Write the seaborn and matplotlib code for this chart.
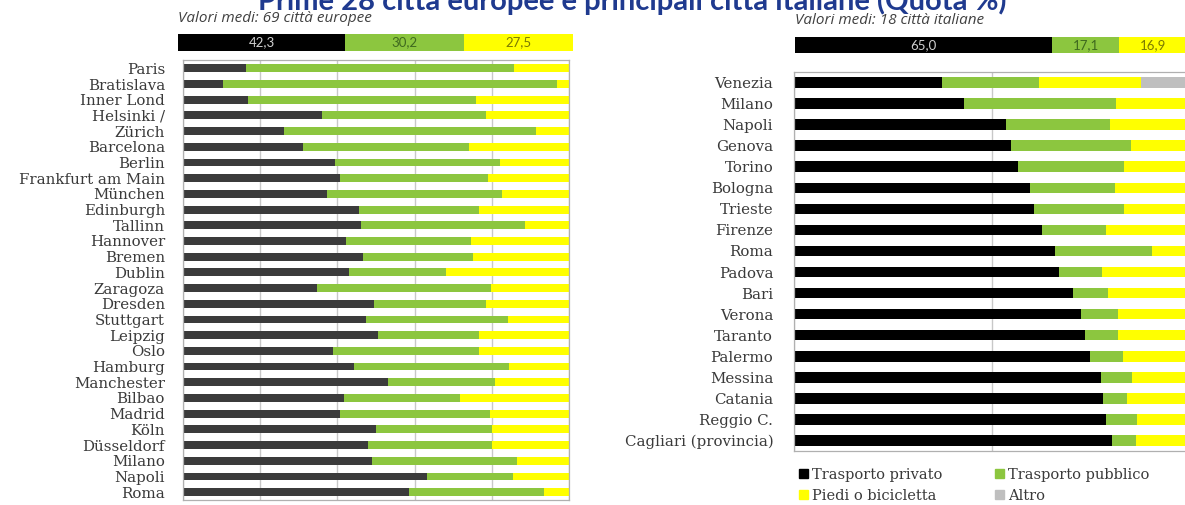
import numpy as np
import pandas as pd
import seaborn as sns
import matplotlib
matplotlib.use('Agg')
import matplotlib.pyplot as plt
from matplotlib.patches import Patch

# --- data (quota %) ---
eu_cities = ['Paris', 'Bratislava', 'Inner Lond', 'Helsinki /', 'Zürich', 'Barcelona',
             'Berlin', 'Frankfurt am Main', 'München', 'Edinburgh', 'Tallinn', 'Hannover',
             'Bremen', 'Dublin', 'Zaragoza', 'Dresden', 'Stuttgart', 'Leipzig', 'Oslo',
             'Hamburg', 'Manchester', 'Bilbao', 'Madrid', 'Köln', 'Düsseldorf', 'Milano',
             'Napoli', 'Roma']
eu_private = [16.4, 10.3, 16.8, 36.1, 26.2, 31.1, 39.5, 40.7, 37.2, 45.7, 46.2, 42.2,
              46.7, 43.0, 34.7, 49.5, 47.3, 50.4, 38.9, 44.4, 53.0, 41.7, 40.8, 49.9,
              47.8, 48.9, 63.1, 58.5]
eu_public = [69.4, 86.6, 59.2, 42.5, 65.3, 43.0, 42.7, 38.4, 45.5, 31.0, 42.5, 32.3,
             28.3, 25.1, 45.0, 29.1, 36.8, 26.3, 37.8, 40.1, 27.7, 30.0, 38.8, 30.2,
             32.3, 37.7, 22.4, 34.9]
eu_walk = [14.2, 3.1, 24.0, 21.4, 8.5, 25.9, 17.8, 20.9, 17.3, 23.3, 11.3, 25.5,
           25.0, 31.9, 20.3, 21.4, 15.9, 23.3, 23.3, 15.5, 19.3, 28.3, 20.4, 19.9,
           19.9, 13.4, 14.5, 6.6]

it_cities = ['Venezia', 'Milano', 'Napoli', 'Genova', 'Torino', 'Bologna', 'Trieste',
             'Firenze', 'Roma', 'Padova', 'Bari', 'Verona', 'Taranto', 'Palermo',
             'Messina', 'Catania', 'Reggio C.', 'Cagliari (provincia)']
it_private = [37.5, 43.0, 53.6, 55.0, 56.6, 59.7, 60.8, 62.8, 66.2, 67.1, 70.6, 72.7,
              73.6, 75.0, 77.6, 78.2, 79.1, 80.5]
it_public = [24.4, 38.5, 26.3, 30.2, 26.9, 21.5, 22.7, 16.1, 24.5, 10.8, 9.0, 9.2,
             8.3, 8.3, 8.0, 6.1, 7.8, 6.2]
it_walk = [25.9, 18.5, 20.1, 14.8, 16.5, 18.8, 16.5, 21.1, 9.3, 22.1, 20.4, 18.1,
           18.1, 16.7, 14.4, 15.7, 13.1, 13.3]
it_other = [12.2, 0, 0, 0, 0, 0, 0, 0, 0, 0, 0, 0, 0, 0, 0, 0, 0, 0]

eu_avg = [42.3, 30.2, 27.5]
it_avg = [65.0, 17.1, 16.9]
avg_labels_eu = ['42,3', '30,2', '27,5']
avg_labels_it = ['65,0', '17,1', '16,9']

modes = ['Trasporto privato', 'Trasporto pubblico', 'Piedi o bicicletta', 'Altro']
GREEN = '#8cc63f'
YELLOW = '#ffff00'
GREY = '#bfbfbf'

sns.set_style('white')
plt.rcParams['font.family'] = ['DejaVu Serif', 'Liberation Serif']

W, H = 1185, 505
fig = plt.figure(figsize=(W / 100, H / 100), dpi=100)


def px_axes(x0, y0, x1, y1):
    return fig.add_axes([x0 / W, 1 - y1 / H, (x1 - x0) / W, (y1 - y0) / H])


def stacked(ax, cities, layers, colors, ylim, pad):
    df = pd.DataFrame({'city': cities})
    cum = np.zeros(len(cities))
    cums = []
    for vals in layers:
        cum = cum + np.array(vals, dtype=float)
        cums.append(cum.copy())
    # draw from the longest stack down so each shorter one sits on top
    for c, col in reversed(list(zip(cums, colors))):
        df['v'] = c
        sns.barplot(data=df, x='v', y='city', orient='h', color=col, saturation=1,
                    width=0.5, errorbar=None, ax=ax, linewidth=0)
    ax.set_xlim(0, 100)
    ax.set_ylim(*ylim)
    ax.set_xlabel('')
    ax.set_ylabel('')
    for s in ax.spines.values():
        s.set_color('#b0b0b0')
        s.set_linewidth(0.9)
    ax.set_axisbelow(True)
    ax.tick_params(axis='y', which='major', length=0, pad=pad, labelcolor='#3a3a3a')
    ax.set_yticks(np.arange(-0.5, len(cities)), minor=True)
    ax.tick_params(axis='y', which='minor', length=3, color='#b0b0b0')
    ax.tick_params(axis='x', length=0, labelbottom=False)


# --- left: European cities ---
axl = px_axes(183, 60, 569, 500)
stacked(axl, eu_cities, [eu_private, eu_public, eu_walk], ['#3b3b3b', GREEN, YELLOW],
        (27.4, -0.53), 13)
axl.set_xticks([0, 20, 40, 60, 80, 100])
axl.grid(axis='x', color='#c8c8c8', linewidth=1)
axl.tick_params(axis='y', labelsize=10.8)

# --- right: Italian cities ---
axr = px_axes(794, 72, 1189, 451)
stacked(axr, it_cities, [it_private, it_public, it_walk, it_other],
        ['#000000', GREEN, YELLOW, GREY], (17.45, -0.47), 15)
axr.set_xticks([0, 50, 100])
axr.grid(axis='x', color='#c8c8c8', linewidth=1)
axr.tick_params(axis='y', labelsize=10.8)


# --- average summary bars ---
def summary(x0, y0, x1, y1, vals, labels):
    ax = px_axes(x0, y0, x1, y1)
    df = pd.DataFrame({'g': ['m'], 'v': [0.0]})
    cum = np.cumsum(vals)
    for c, col in reversed(list(zip(cum, ['#000000', GREEN, YELLOW]))):
        df['v'] = [c]
        sns.barplot(data=df, x='v', y='g', orient='h', color=col, saturation=1,
                    width=1.0, errorbar=None, ax=ax, linewidth=0)
    ax.set_xlim(0, 100)
    ax.set_ylim(0.5, -0.5)
    ax.axis('off')
    starts = np.concatenate([[0], cum[:-1]])
    for s, v, lab, tc in zip(starts, vals, labels, ['#d0d0d0', '#3f6a1f', '#7a7a00']):
        ax.text(s + v / 2, 0, lab, ha='center', va='center', fontsize=9.5,
                color=tc, family=['Lato', 'DejaVu Sans'])
    return ax


summary(178, 34, 573, 51, eu_avg, avg_labels_eu)
summary(795, 37, 1190, 53, it_avg, avg_labels_it)

fig.text(178 / W, 1 - 19 / H, 'Valori medi: 69 città europee', ha='left', va='center',
         fontsize=11, style='italic', color='#404040', family=['Open Sans', 'DejaVu Sans'])
fig.text(795 / W, 1 - 21 / H, 'Valori medi: 18 città italiane', ha='left', va='center',
         fontsize=11, style='italic', color='#404040', family=['Open Sans', 'DejaVu Sans'])

fig.text(632 / W, 1 - 10 / H, 'Prime 28 città europee e principali città italiane (Quota %)',
         ha='center', va='baseline', fontsize=21, weight='bold', color='#1f3a8f',
         family=['Lato', 'DejaVu Sans'])

# --- legend ---
handles = [Patch(color=c) for c in ['#000000', YELLOW, GREEN, GREY]]
labels = [modes[0], modes[2], modes[1], modes[3]]
fig.legend(handles, labels, ncol=2, loc='upper left', bbox_to_anchor=(799 / W, 1 - 468 / H),
           frameon=False, fontsize=10.5, handlelength=0.6, handleheight=0.6,
           handletextpad=0.3, columnspacing=3.6, labelspacing=0.45, borderaxespad=0,
           borderpad=0, labelcolor='#3a3a3a')

fig.savefig('out.png', dpi=100)
